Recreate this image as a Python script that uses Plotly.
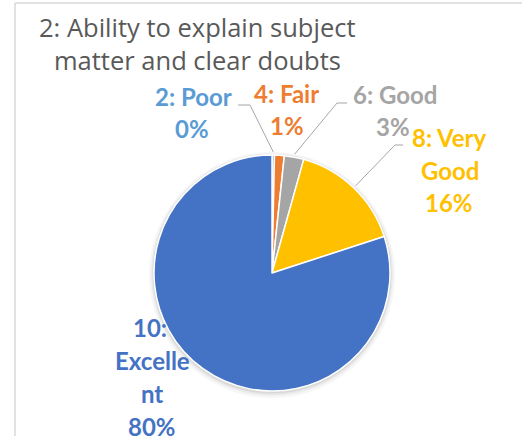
import math
import plotly.graph_objects as go

W, H = 522, 436

# ---- data ----
categories = ["2: Poor", "4: Fair", "6: Good", "8: Very Good", "10: Excellent"]
counts = [1, 4, 8, 47, 240]
colors = ["#5B9BD5", "#ED7D31", "#A5A5A5", "#FFC000", "#4472C4"]
label_lines = [["2: Poor"], ["4: Fair"], ["6: Good"], ["8: Very", "Good"], ["10:", "Excelle", "nt"]]
title_lines = ["2: Ability to explain subject", "matter and clear doubts"]

# ---- layout helpers (pixel -> paper) ----
def px(x):
    return x / W

def py(y):
    return 1 - y / H

CX, CY, R = 272, 273, 118
LABEL_FONT = "Lato"
TITLE_FONT = "Open Sans"

fig = go.Figure()

# soft shadow rings behind the pie
for grow, dy, alpha in [(5, 2, 0.035), (3, 1.5, 0.05), (1.5, 1, 0.07)]:
    r = R + grow
    fig.add_trace(go.Pie(
        values=[1], marker=dict(colors=[f"rgba(0,0,0,{alpha})"], line=dict(width=0)),
        textinfo="none", hoverinfo="skip", showlegend=False, sort=False,
        domain=dict(x=[px(CX - r), px(CX + r)], y=[py(CY + dy + r), py(CY + dy - r)]),
    ))

fig.add_trace(go.Pie(
    labels=categories, values=counts, sort=False, direction="clockwise", rotation=0,
    marker=dict(colors=colors, line=dict(color="white", width=1.5)),
    textinfo="none", hoverinfo="label+percent", showlegend=False,
    domain=dict(x=[px(CX - R), px(CX + R)], y=[py(CY + R), py(CY - R)]),
))

total = sum(counts)
pcts = [f"{round(100 * c / total)}%" for c in counts]

# label placement (pixel centres of first line), line pitch
label_pos = [(193, 97), (286, 94), (395, 95), (449, 138), (150, 328)]
pct_x = [192, 287, 393, 449, 152]
line_x = [None, None, None, [449, 450], [150, 152, 152]]
PITCH = 33
LS = 24

annotations = []
for i, lines in enumerate(label_lines):
    x0, y0 = label_pos[i]
    all_lines = lines + [pcts[i]]
    for j, t in enumerate(all_lines):
        if j == len(all_lines) - 1:
            x = pct_x[i]
        elif line_x[i] is not None:
            x = line_x[i][j]
        else:
            x = x0
        annotations.append(dict(
            x=px(x), y=py(y0 + j * PITCH - 1), xref="paper", yref="paper",
            text=f"<b>{t}</b>", showarrow=False, xanchor="center", yanchor="middle",
            font=dict(family=LABEL_FONT, size=LS, color=colors[i]),
        ))

for j, t in enumerate(title_lines):
    annotations.append(dict(
        x=px(197), y=py(27 + j * 33), xref="paper", yref="paper", text=t,
        showarrow=False, xanchor="center", yanchor="middle",
        font=dict(family=TITLE_FONT, size=25.5, color="#595959"),
    ))

# leader lines: from label anchor to the slice's mid-angle on the pie edge
cum = 0
mids = []
for c in counts:
    mids.append((cum + c / 2) / total * 2 * math.pi)
    cum += c
leaders = {0: [(238, 105), (250, 105)], 2: [(347, 103), (337, 103)], 3: [(403, 145), (395, 145)]}
shapes = [
    dict(type="line", xref="paper", yref="paper", x0=px(15), x1=1, y0=py(3), y1=py(3),
         line=dict(color="#D9D9D9", width=1.5)),
    dict(type="line", xref="paper", yref="paper", x0=px(15), x1=px(15), y0=0, y1=py(3),
         line=dict(color="#D9D9D9", width=1.5)),
]
for i, pts in leaders.items():
    a = mids[i]
    ex, ey = CX + (R + 3) * math.sin(a), CY - (R + 3) * math.cos(a)
    path_pts = pts + [(ex, ey)]
    path = "M " + " L ".join(f"{px(x)},{py(y)}" for x, y in path_pts)
    shapes.append(dict(type="path", xref="paper", yref="paper", path=path,
                       line=dict(color="#A6A6A6", width=1)))

fig.update_layout(
    width=W, height=H, margin=dict(l=0, r=0, t=0, b=0),
    paper_bgcolor="white", plot_bgcolor="white",
    annotations=annotations, shapes=shapes,
)

fig.write_html(
    "out.html", config={"displayModeBar": False},
    post_script=("document.body.style.margin='0';document.body.style.overflow='hidden';"
                 "document.documentElement.style.overflow='hidden';"),
)
